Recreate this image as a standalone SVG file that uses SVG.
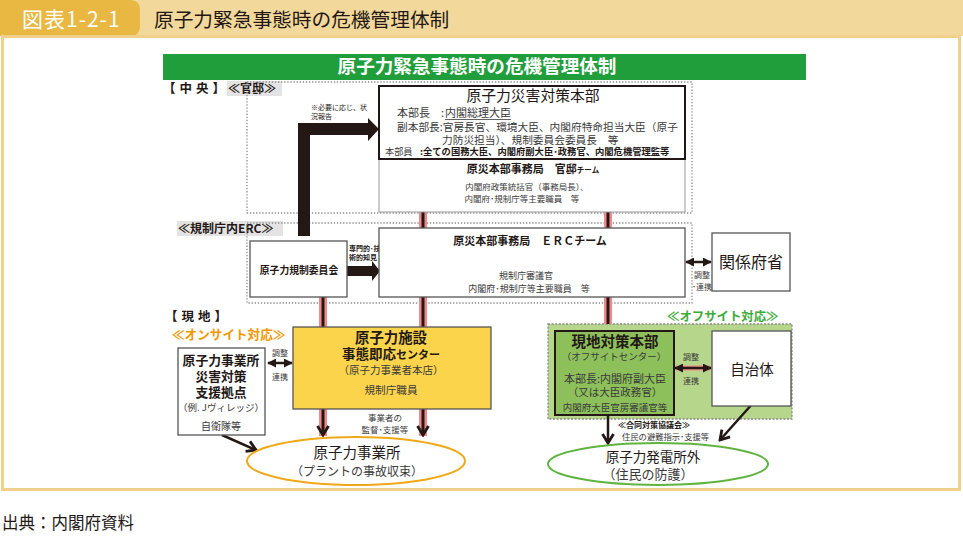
<svg xmlns="http://www.w3.org/2000/svg" width="963" height="537" viewBox="0 0 963 537">
<defs>
<style>
text{font-family:"Noto Sans CJK JP","Noto Sans",sans-serif;fill:#231815}
.b{font-weight:bold}
.g{fill:#3a3a3a}
.c{text-anchor:middle}
.dot{fill:none;stroke:#8a8a8a;stroke-width:1.3;stroke-dasharray:1.3 1.8}
.pink{stroke:#f08a8a;fill:none}
.blk{stroke:#231815;fill:none}
.box{fill:#fff;stroke:#555;stroke-width:1.3}
</style>
<marker id="ah" viewBox="0 0 10 10" refX="9" refY="5" markerWidth="9" markerHeight="9" markerUnits="userSpaceOnUse" orient="auto-start-reverse"><path d="M0,0 L10,5 L0,10 z" fill="#231815"/></marker>
<marker id="v" viewBox="0 0 14 14" refX="12" refY="7" markerWidth="14" markerHeight="14" markerUnits="userSpaceOnUse" orient="auto"><path d="M3,1.5 L12,7 L3,12.5" fill="none" stroke="#231815" stroke-width="2.8"/></marker>
</defs>

<!-- header -->
<g id="header">
<rect x="0" y="0" width="963" height="36" fill="#f3d89b"/>
<path d="M0,0 H130 Q140,0 140,10 V26 Q140,36 130,36 H0 Z" fill="#e8b843"/>
<text x="22" y="27" font-size="21" letter-spacing="1" style="fill:#fff">図表1-2-1</text>
<text x="154" y="27" font-size="19.7">原子力緊急事態時の危機管理体制</text>
<rect x="2.5" y="36.5" width="957" height="453" fill="#fff" stroke="#f0d08a" stroke-width="3"/>
<text x="2" y="529" font-size="16.5">出典：内閣府資料</text>
</g>

<!-- title bar and section labels -->
<g id="title">
<rect x="163" y="54" width="643" height="26" fill="#1f9e3b"/>
<text x="477" y="73" font-size="18.6" class="b c" style="fill:#fff">原子力緊急事態時の危機管理体制</text>
</g>
<g id="labels">
<text x="163" y="93" font-size="12.5" class="b" letter-spacing="4">【中央】</text>
<rect x="227" y="81" width="55" height="15" fill="#e3e3e3"/>
<text x="228" y="93" font-size="12" class="b">≪官邸≫</text>
<rect x="177" y="221" width="106" height="15" fill="#e3e3e3"/>
<text x="178" y="233" font-size="12" class="b">≪規制庁内ERC≫</text>
<text x="165" y="321" font-size="12.5" class="b" letter-spacing="4">【現地】</text>
<text x="172" y="339" font-size="12.6" class="b" style="fill:#f39800">≪オンサイト対応≫</text>
<text x="667" y="321" font-size="12.4" class="b" style="fill:#3cab39">≪オフサイト対応≫</text>
</g>

<!-- frames -->
<g id="frames">
<rect x="247" y="82" width="445" height="131" class="dot"/>
<rect x="247" y="223" width="445" height="80" class="dot"/>
<rect x="548" y="324" width="244" height="95" fill="#b6d78b" stroke="#888" stroke-width="1.3" stroke-dasharray="2 1.6"/>
</g>

<!-- connectors -->
<g id="connectors">
<g class="pink" stroke-width="8">
<line x1="423" y1="212" x2="423" y2="228"/>
<line x1="608" y1="212" x2="608" y2="228"/>
<line x1="323" y1="297" x2="323" y2="436"/>
<line x1="423" y1="297" x2="423" y2="436"/>
<line x1="608" y1="297" x2="608" y2="324"/>
<line x1="676" y1="368" x2="710" y2="368" stroke-width="5"/>
</g>
<g class="blk" stroke-width="3">
<line x1="423" y1="212" x2="423" y2="228"/>
<line x1="608" y1="212" x2="608" y2="228"/>
<line x1="323" y1="297" x2="323" y2="435" marker-end="url(#v)"/>
<line x1="423" y1="297" x2="423" y2="435" marker-end="url(#v)"/>
<line x1="608" y1="297" x2="608" y2="324"/>
</g>
<g class="blk" stroke-width="2.5">
<line x1="608" y1="415" x2="608" y2="443" marker-end="url(#v)"/>
<line x1="762" y1="393" x2="720" y2="440" marker-end="url(#v)"/>
<line x1="222" y1="435" x2="256" y2="450" marker-end="url(#v)"/>
<line x1="268" y1="363" x2="292" y2="363" marker-start="url(#ah)" marker-end="url(#ah)"/>
<line x1="686" y1="262" x2="711" y2="262" marker-start="url(#ah)" marker-end="url(#ah)"/>
<line x1="675" y1="368" x2="711" y2="368" marker-start="url(#ah)" marker-end="url(#ah)"/>
</g>
<polygon points="298,236 298,123 368,123 368,118 379,129 368,141 368,135 310,135 310,236" fill="#231815"/>
<polygon points="347,266 372,266 372,261 380,271 372,281 372,276 347,276" fill="#231815"/>
<text x="311" y="110" font-size="7">※必要に応じ、状</text>
<text x="311" y="119" font-size="7">況報告</text>
<text x="349" y="251" font-size="7" class="b">専門的･技</text>
<text x="349" y="260" font-size="7" class="b">術的知見</text>
<text x="272" y="356" font-size="8" class="g">調整</text>
<text x="272" y="380" font-size="8" class="g">連携</text>
<text x="694" y="278" font-size="8" class="g">調整</text>
<text x="692" y="290" font-size="8" class="g">･連携</text>
<text x="683" y="360" font-size="8" class="g">調整</text>
<text x="683" y="384" font-size="8" class="g">連携</text>
<text x="385" y="421" font-size="8.5" class="g c">事業者の</text>
<text x="385" y="433" font-size="8.5" class="g c">監督･支援等</text>
<text x="618" y="428" font-size="8" class="b">≪合同対策協議会≫</text>
<text x="622" y="440" font-size="8.3" class="g">住民の避難指示･支援等</text>
</g>

<!-- nodes -->
<g id="honbu">
<rect x="379" y="159" width="306" height="53" fill="#fff" stroke="#999" stroke-width="1"/>
<rect x="379" y="86" width="306" height="73" fill="#fff" stroke="#231815" stroke-width="2"/>
<text x="533" y="101" font-size="14.8" class="c">原子力災害対策本部</text>
<text x="397" y="117" font-size="11" class="g">本部長</text>
<text x="441" y="117" font-size="11" class="g">:</text>
<text x="445" y="117" font-size="11" class="g">内閣総理大臣</text>
<line x1="445" y1="119.5" x2="511" y2="119.5" stroke="#3a3a3a" stroke-width="0.8"/>
<text x="397" y="131" font-size="10.7" class="g">副本部長:官房長官、環境大臣、内閣府特命担当大臣（原子</text>
<text x="442" y="143.5" font-size="10.7" class="g">力防災担当）、規制委員会委員長　等</text>
<text x="385" y="155" font-size="9.2" class="g">本部員</text>
<text x="420" y="155" font-size="9.3" class="b">:全ての国務大臣、内閣府副大臣･政務官、内閣危機管理監等</text>
<text x="533" y="173" font-size="11" class="b c">原災本部事務局　官邸<tspan font-size="7.5">チーム</tspan></text>
<text x="527" y="190" font-size="8.5" class="g c">内閣府政策統括官（事務局長）、</text>
<text x="522" y="202" font-size="8.5" class="g c">内閣府･規制庁等主要職員　等</text>
</g>

<g id="erc">
<rect x="379" y="228" width="306" height="69" class="box"/>
<text x="530" y="245" font-size="11" class="b c">原災本部事務局　ＥＲＣチーム</text>
<text x="526" y="279" font-size="9" class="g c">規制庁審議官</text>
<text x="529" y="292" font-size="9" class="g c">内閣府･規制庁等主要職員　等</text>
</g>

<g id="kisei">
<rect x="250" y="241" width="97" height="56" class="box"/>
<text x="299" y="274" font-size="9.8" class="b c">原子力規制委員会</text>
</g>

<g id="kankei">
<rect x="712" y="233" width="78" height="58" class="box"/>
<text x="751" y="268" font-size="16" class="c">関係府省</text>
</g>

<g id="jigyosha-center">
<rect x="293" y="327" width="198" height="82" fill="#fbd44c" stroke="#555" stroke-width="1.3"/>
<text x="391" y="343" font-size="14.4" class="b c">原子力施設</text>
<text x="391" y="359" font-size="13.5" class="b c">事態即応<tspan font-size="11">センター</tspan></text>
<text x="391" y="374" font-size="10.5" class="g c">（原子力事業者本店）</text>
<text x="391" y="394" font-size="10.6" class="g c">規制庁職員</text>
</g>

<g id="shien">
<rect x="178" y="348" width="87" height="87" class="box"/>
<text x="221" y="365" font-size="12.8" class="b c">原子力事業所</text>
<text x="221" y="381" font-size="12.8" class="b c">災害対策</text>
<text x="221" y="397" font-size="12.8" class="b c">支援拠点</text>
<text x="221" y="411" font-size="9.5" class="g c">（例. Jヴィレッジ）</text>
<text x="221" y="430" font-size="10" class="g c">自衛隊等</text>
</g>

<g id="genchi">
<rect x="555" y="331" width="119" height="84" fill="#8dc05a" stroke="#231815" stroke-width="2"/>
<text x="615" y="347" font-size="14.5" class="b c">現地対策本部</text>
<text x="614" y="360" font-size="9.5" class="g c">（オフサイトセンター）</text>
<text x="615" y="383" font-size="11" class="g c">本部長:内閣府副大臣</text>
<text x="615" y="396" font-size="10.5" class="g c">（又は大臣政務官）</text>
<text x="615" y="410.5" font-size="9.5" class="g c">内閣府大臣官房審議官等</text>
</g>

<g id="jichitai">
<rect x="712" y="331" width="79" height="75" class="box"/>
<text x="752" y="375" font-size="14.5" class="c">自治体</text>
</g>

<g id="jigyosho">
<ellipse cx="356" cy="461" rx="109" ry="24" fill="#fff" stroke="#f0a818" stroke-width="2"/>
<text x="357" y="458" font-size="14.5" class="c">原子力事業所</text>
<text x="357" y="476" font-size="12" class="g c">（プラントの事故収束）</text>
</g>

<g id="hatsudensho-gai">
<ellipse cx="658" cy="464" rx="110" ry="21" fill="#fff" stroke="#5fb440" stroke-width="2"/>
<text x="653" y="462" font-size="13.5" class="c">原子力発電所外</text>
<text x="648" y="479" font-size="13" class="g c">（住民の防護）</text>
</g>
</svg>
